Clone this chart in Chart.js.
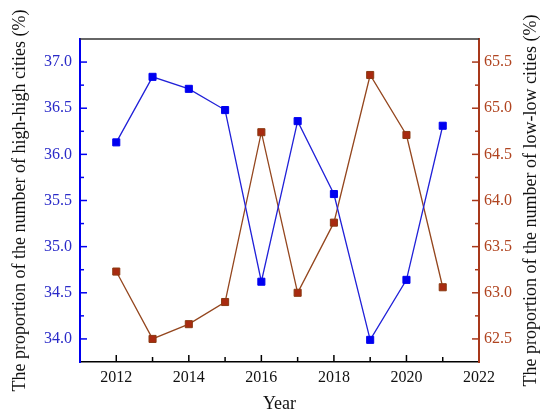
<!DOCTYPE html>
<html>
<head>
<meta charset="utf-8">
<script src="https://cdn.jsdelivr.net/npm/chart.js@4.4.1/dist/chart.umd.min.js"></script>
<style>
  html, body { margin: 0; padding: 0; background: #fff; }
  #wrap { width: 550px; height: 417px; }
</style>
</head>
<body>
<div id="wrap"><canvas id="chart" width="550" height="417"></canvas></div>
<script>
const years = [2012, 2013, 2014, 2015, 2016, 2017, 2018, 2019, 2020, 2021];
const highHigh = [36.13, 36.84, 36.71, 36.48, 34.62, 36.36, 35.57, 33.99, 34.64, 36.31];
const lowLow = [63.23, 62.50, 62.66, 62.90, 64.74, 63.00, 63.76, 65.36, 64.71, 63.06];

const xTicks = [2012, 2014, 2016, 2018, 2020, 2022];
const leftTicks = [34.0, 34.5, 35.0, 35.5, 36.0, 36.5, 37.0];
const rightTicks = [62.5, 63.0, 63.5, 64.0, 64.5, 65.0, 65.5];

const leftTitle = 'The proportion of the number of high-high cities (%)';
const rightTitle = 'The proportion of the number of low-low cities (%)';
const xTitle = 'Year';

const BLUE = '#0000f0';
const BLUE_TEXT = '#2a2ac8';
const RED = '#a8381a';
const RED_TEXT = '#b04420';
const FONT = "'Liberation Serif', 'Times New Roman', serif";

// inward major/minor ticks, top frame and the right-hand title
const axisDecor = {
  id: 'axisDecor',
  afterDraw(chart){
    const {ctx, chartArea: a, scales} = chart;
    const line = (x1, y1, x2, y2) => { ctx.beginPath(); ctx.moveTo(x1, y1); ctx.lineTo(x2, y2); ctx.stroke(); };
    ctx.save();
    ctx.lineWidth = 1.5;

    ctx.strokeStyle = '#333';
    line(a.left, a.top, a.right, a.top);

    // x ticks every year, longer on labelled years
    ctx.strokeStyle = '#000';
    for(let v = scales.x.min + 1; v < scales.x.max; v++){
      const px = scales.x.getPixelForValue(v);
      line(px, a.bottom, px, a.bottom - (xTicks.includes(v) ? 7 : 5));
    }

    // left ticks every 0.25
    ctx.strokeStyle = BLUE;
    for(let i = 1; i < 14; i++){
      const v = scales.y.min + i * 0.25;
      const py = scales.y.getPixelForValue(v);
      line(a.left, py, a.left + (i % 2 ? 7 : 4), py);
    }

    // right ticks every 0.25
    ctx.strokeStyle = RED;
    for(let i = 1; i < 14; i++){
      const v = scales.y1.min + i * 0.25;
      const py = scales.y1.getPixelForValue(v);
      line(a.right, py, a.right - (i % 2 ? 7 : 4), py);
    }

    // right title, reading bottom to top
    ctx.fillStyle = '#111';
    ctx.font = '18px ' + FONT;
    ctx.textAlign = 'center';
    ctx.textBaseline = 'middle';
    ctx.translate(531, (a.top + a.bottom) / 2);
    ctx.rotate(-Math.PI / 2);
    ctx.fillText(rightTitle, 0, 0);
    ctx.restore();
  }
};

new Chart(document.getElementById('chart'), {
  type: 'line',
  data: {
    datasets: [
      {
        label: 'high-high',
        data: years.map((y, i) => ({x: y, y: highHigh[i]})),
        yAxisID: 'y',
        borderColor: '#2020d8',
        borderWidth: 1.3,
        pointStyle: 'rect',
        pointRadius: 5,
        pointBackgroundColor: BLUE,
        pointBorderColor: BLUE,
        pointBorderWidth: 1,
        tension: 0
      },
      {
        label: 'low-low',
        data: years.map((y, i) => ({x: y, y: lowLow[i]})),
        yAxisID: 'y1',
        borderColor: '#94461e',
        borderWidth: 1.3,
        pointStyle: 'rect',
        pointRadius: 5,
        pointBackgroundColor: '#a82a10',
        pointBorderColor: '#8a3a12',
        pointBorderWidth: 1,
        tension: 0
      }
    ]
  },
  options: {
    responsive: false,
    animation: false,
    devicePixelRatio: 1,
    layout: { padding: { top: 39, left: 0, right: 0, bottom: 0 } },
    plugins: { legend: { display: false }, tooltip: { enabled: false } },
    scales: {
      x: {
        type: 'linear',
        min: 2011, max: 2022,
        afterBuildTicks: s => { s.ticks = xTicks.map(v => ({value: v})); },
        afterFit: s => { s.height = 55; },
        grid: { display: false, drawTicks: false },
        border: { display: true, color: '#000', width: 1.5 },
        ticks: { color: '#111', padding: 6, maxRotation: 0, font: { family: FONT, size: 16 }, callback: v => String(v) },
        title: { display: true, text: xTitle, color: '#111', padding: { top: 0, bottom: 2 }, font: { family: FONT, size: 18 } }
      },
      y: {
        position: 'left',
        min: 33.75, max: 37.25,
        afterBuildTicks: s => { s.ticks = leftTicks.map(v => ({value: v})); },
        afterFit: s => { s.width = 80; },
        grid: { display: false, drawTicks: false },
        border: { display: true, color: BLUE, width: 2 },
        ticks: { color: BLUE_TEXT, padding: 8, font: { family: FONT, size: 16 }, callback: v => v.toFixed(1) },
        title: { display: true, text: leftTitle, color: '#111', padding: { top: 9, bottom: 0 }, font: { family: FONT, size: 18 } }
      },
      y1: {
        position: 'right',
        min: 62.25, max: 65.75,
        afterBuildTicks: s => { s.ticks = rightTicks.map(v => ({value: v})); },
        afterFit: s => { s.width = 71; },
        grid: { display: false, drawTicks: false },
        border: { display: true, color: RED, width: 2 },
        ticks: { color: RED_TEXT, padding: 5, font: { family: FONT, size: 16 }, callback: v => v.toFixed(1) }
      }
    }
  },
  plugins: [axisDecor]
});
</script>
</body>
</html>
